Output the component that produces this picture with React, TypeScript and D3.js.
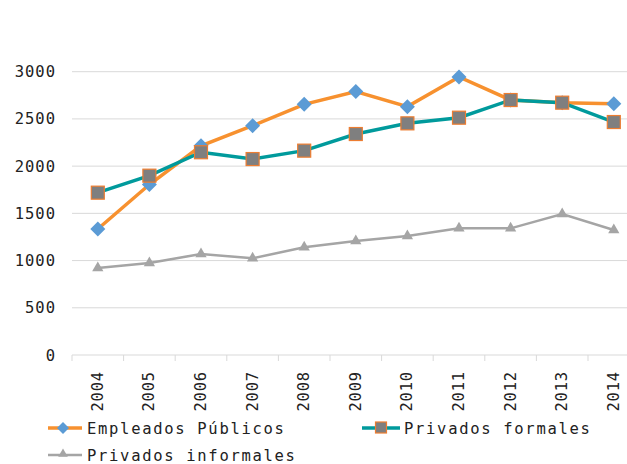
import React from "react";
import * as d3 from "d3";

const years = ["2004","2005","2006","2007","2008","2009","2010","2011","2012","2013","2014"];
const empleadosPublicos = [1334, 1805, 2215, 2428, 2654, 2790, 2630, 2945, 2700, 2672, 2660];
const privadosFormales = [1719, 1899, 2147, 2075, 2164, 2340, 2453, 2513, 2700, 2672, 2467];
const privadosInformales = [921, 974, 1070, 1024, 1140, 1207, 1260, 1341, 1341, 1493, 1324];
const yTicks = [0, 500, 1000, 1500, 2000, 2500, 3000];

const W = 627, H = 464;
const FONT = "'DejaVu Sans Mono', monospace";

export default function App() {
  const x = d3.scaleBand<string>().domain(years).range([72, 72 + 51.6 * 11]);
  const y = d3.scaleLinear().domain([0, 3000]).range([355, 71.7]);
  const cx = (d: string) => (x(d) as number) + x.bandwidth() / 2;
  const line = d3.line<number>().x((_, i) => cx(years[i])).y((v) => y(v));
  const tri = d3.symbol().type(d3.symbolTriangle).size(55)() as string;

  const orange = "#F7912F";
  const blue = "#5B9BD5";
  const teal = "#009A9C";
  const gray = "#A5A5A5";

  const diamondPath = (s: number) => `M0,${-s}L${s},0L0,${s}L${-s},0Z`;

  return (
    <svg width={W} height={H} style={{ position: "absolute", left: 0, top: 0, background: "#fff" }}>
      {yTicks.map((t) => (
        <g key={t}>
          <line x1={72} x2={W} y1={y(t)} y2={y(t)} stroke="#D9D9D9" strokeWidth={1} />
          <text x={56} y={y(t)} dy="0.36em" textAnchor="end" fontFamily={FONT} fontSize={15.5} letterSpacing={1} fill="#222">{t}</text>
        </g>
      ))}
      {d3.range(years.length + 1).map((i) => (
        <line key={i} x1={72 + i * x.step()} x2={72 + i * x.step()} y1={355} y2={361} stroke="#D9D9D9" />
      ))}
      {years.map((yr) => (
        <text key={yr} transform={`translate(${cx(yr) + 5},371) rotate(-90)`} textAnchor="end" fontFamily={FONT} fontSize={15.5} letterSpacing={0.8} fill="#222">{yr}</text>
      ))}

      <path d={line(privadosInformales) as string} fill="none" stroke={gray} strokeWidth={2.5} />
      {privadosInformales.map((v, i) => (
        <path key={i} d={tri} transform={`translate(${cx(years[i])},${y(v)})`} fill={gray} />
      ))}

      <path d={line(empleadosPublicos) as string} fill="none" stroke={orange} strokeWidth={3.5} />
      {empleadosPublicos.map((v, i) => (
        <path key={i} d={diamondPath(7.5)} transform={`translate(${cx(years[i])},${y(v)})`} fill={blue} />
      ))}

      <path d={line(privadosFormales) as string} fill="none" stroke={teal} strokeWidth={3.5} />
      {privadosFormales.map((v, i) => (
        <rect key={i} x={cx(years[i]) - 6.5} y={y(v) - 6.5} width={13} height={13} fill="#7F7F7F" stroke="#ED7D31" strokeWidth={1.2} />
      ))}

      {/* legend */}
      <g>
        <line x1={48} x2={82} y1={428} y2={428} stroke={orange} strokeWidth={3.5} />
        <path d={diamondPath(6)} transform="translate(63,428)" fill={blue} />
        <text x={87} y={428} dy="0.36em" fontFamily={FONT} fontSize={15.5} letterSpacing={1.7} fill="#222">Empleados Públicos</text>

        <line x1={362} x2={400} y1={428} y2={428} stroke={teal} strokeWidth={3.5} />
        <rect x={375.5} y={422} width={11} height={11} fill="#7F7F7F" stroke="#ED7D31" strokeWidth={1.2} />
        <text x={404} y={428} dy="0.36em" fontFamily={FONT} fontSize={15.5} letterSpacing={1.7} fill="#222">Privados formales</text>

        <line x1={48} x2={82} y1={455} y2={455} stroke={gray} strokeWidth={2.5} />
        <path d={d3.symbol().type(d3.symbolTriangle).size(40)() as string} transform="translate(63,454)" fill={gray} />
        <text x={87} y={455} dy="0.36em" fontFamily={FONT} fontSize={15.5} letterSpacing={1.7} fill="#222">Privados informales</text>
      </g>
    </svg>
  );
}
